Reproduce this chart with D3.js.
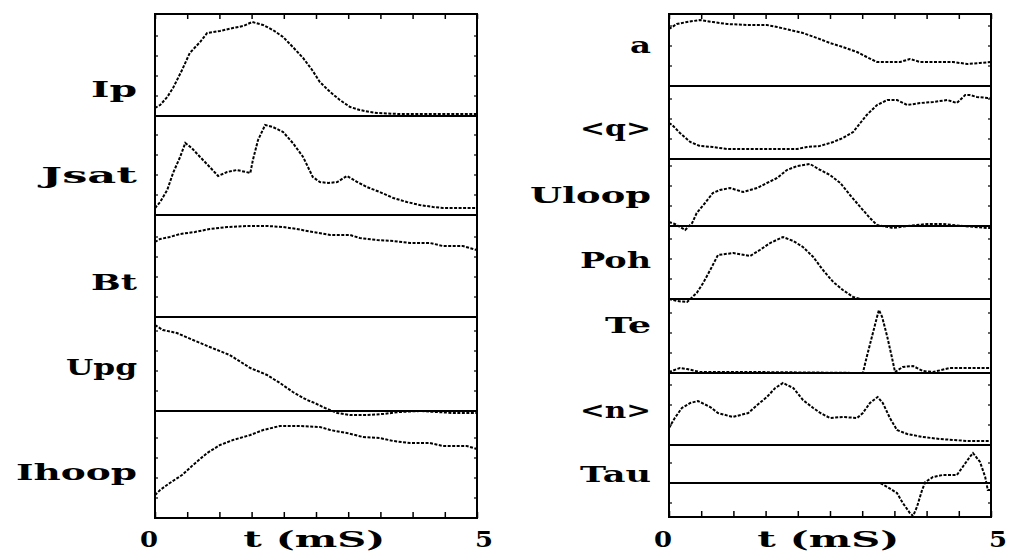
<!DOCTYPE html>
<html>
<head>
<meta charset="utf-8">
<script src="https://cdn.jsdelivr.net/npm/d3@7/dist/d3.min.js"></script>
<style>
  html, body { margin: 0; padding: 0; background: #fff; }
  svg { display: block; }
</style>
</head>
<body>
<svg id="chart" width="1009" height="551"></svg>
<script>
// ---- time axis (mS) ----
const timeDomain = [0, 5];
const timeTicks = [0, 0.5, 1, 1.5, 2, 2.5, 3, 3.5, 4, 4.5, 5];
const axisLabels = ["0", "t (mS)", "5"];

// ---- left column signals (arbitrary units) ----
const ipT = [0, .08, .19, .28, .42, .54, .70, .81, 1.01, 1.21, 1.37, 1.51, 1.68, 1.83, 1.99, 2.14, 2.30, 2.44, 2.56, 2.72, 2.87, 3.03, 3.18, 3.34, 3.45, 3.80, 4.43, 5.0];
const ipV = [0.8, 1.1, 1.9, 2.8, 4.6, 6.3, 7.4, 8.3, 8.5, 8.8, 9.0, 9.4, 9.1, 8.6, 7.9, 6.9, 5.8, 4.6, 3.4, 2.4, 1.6, 0.9, 0.6, 0.4, 0.3, 0.2, 0.2, 0.2];

const jsatT = [0, .08, .19, .28, .39, .47, .57, .70, .85, .98, 1.12, 1.27, 1.48, 1.52, 1.60, 1.71, 1.83, 1.99, 2.14, 2.30, 2.45, 2.56, 2.69, 2.83, 2.98, 3.14, 3.29, 3.49, 3.70, 3.91, 4.11, 4.32, 4.47, 5.0];
const jsatV = [0.7, 1.3, 2.5, 4.2, 5.8, 7.2, 6.7, 5.8, 4.8, 3.9, 4.3, 4.5, 4.2, 5.5, 7.5, 9.0, 8.8, 8.3, 7.2, 5.8, 3.8, 3.3, 3.2, 3.3, 3.9, 3.3, 2.8, 2.3, 1.7, 1.3, 1.0, 0.8, 0.7, 0.7];

const btT = [0, .08, .23, .39, .62, .85, 1.12, 1.43, 1.74, 1.99, 2.20, 2.45, 2.72, 3.03, 3.18, 3.45, 3.70, 3.96, 4.27, 4.47, 4.78, 4.94, 5.0];
const btV = [7.5, 7.8, 8.0, 8.3, 8.5, 8.8, 9.0, 9.1, 9.1, 9.0, 8.8, 8.5, 8.2, 8.2, 7.9, 7.7, 7.6, 7.4, 7.4, 7.1, 7.1, 6.8, 6.7];

const upgT = [0, .12, .34, .59, .85, 1.16, 1.48, 1.74, 1.94, 2.14, 2.36, 2.48, 2.64, 2.83, 3.03, 3.29, 3.54, 3.80, 4.11, 4.63, 5.0];
const upgV = [8.6, 8.1, 7.8, 7.1, 6.4, 5.6, 4.3, 3.6, 2.8, 1.9, 1.1, 0.8, 0.3, -0.2, -0.4, -0.4, -0.3, -0.1, 0, -0.2, -0.2];

const ihoopT = [0, .08, .23, .42, .59, .81, 1.01, 1.21, 1.48, 1.68, 1.94, 2.25, 2.56, 2.72, 2.98, 3.23, 3.49, 3.70, 3.96, 4.27, 4.47, 4.84, 5.0];
const ihoopV = [2.3, 2.8, 3.5, 4.3, 5.3, 6.5, 7.3, 7.8, 8.3, 8.8, 9.2, 9.2, 9.1, 8.8, 8.5, 8.1, 8.0, 7.7, 7.5, 7.5, 7.2, 7.2, 6.9];

// ---- right column signals (arbitrary units) ----
const aT = [0, .05, .12, .28, .48, .68, .90, 1.21, 1.52, 1.68, 1.88, 2.08, 2.30, 2.50, 2.70, 2.92, 3.07, 3.23, 3.59, 3.74, 3.90, 4.10, 4.41, 4.63, 4.83, 5.0];
const aV = [5.7, 5.9, 6.2, 6.4, 6.6, 6.4, 6.2, 6.1, 6.1, 5.9, 5.6, 5.3, 4.8, 4.3, 3.9, 3.4, 2.9, 2.4, 2.4, 2.7, 2.4, 2.4, 2.4, 2.2, 2.3, 2.4];

const qT = [0, .05, .17, .33, .48, .68, .90, 1.10, 1.41, 1.72, 1.99, 2.14, 2.34, 2.55, 2.70, 2.86, 2.97, 3.07, 3.23, 3.39, 3.54, 3.70, 3.90, 4.10, 4.32, 4.47, 4.60, 4.67, 4.78, 4.95, 5.0];
const qV = [3.6, 3.4, 2.6, 1.7, 1.3, 1.2, 1.0, 1.0, 1.0, 1.0, 1.0, 1.2, 1.3, 1.7, 2.1, 2.7, 3.6, 4.4, 5.4, 5.9, 5.9, 5.4, 5.6, 5.7, 5.9, 5.6, 6.4, 6.4, 6.2, 6.1, 6.1];

const uloopT = [0, .09, .25, .36, .43, .56, .68, .79, .95, 1.15, 1.37, 1.52, 1.68, 1.83, 1.99, 2.19, 2.35, 2.50, 2.66, 2.81, 2.97, 3.12, 3.23, 3.48, 3.70, 4.01, 4.25, 4.56, 4.94, 5.0];
const uloopV = [0.4, 0.2, -0.4, 0.3, 1.3, 2.3, 3.3, 3.6, 3.8, 3.4, 3.8, 4.3, 4.8, 5.6, 6.0, 6.2, 5.6, 5.1, 4.3, 3.1, 1.9, 0.8, 0.1, -0.2, 0, 0.2, 0.2, 0, -0.2, -0.2];

const pohT = [0, .12, .28, .43, .53, .64, .76, 1.0, 1.26, 1.41, 1.57, 1.77, 1.93, 2.08, 2.24, 2.39, 2.55, 2.70, 2.86, 2.97, 3.59, 5.0];
const pohV = [0, -0.2, -0.3, 0.6, 1.6, 2.9, 4.4, 4.6, 4.3, 4.9, 5.6, 6.2, 5.8, 5.2, 4.2, 2.9, 1.7, 0.9, 0.2, 0, 0, 0];

const teT = [0, .17, .28, .48, 1.30, 3.01, 3.07, 3.15, 3.23, 3.26, 3.31, 3.39, 3.46, 3.51, 3.63, 3.79, 3.94, 4.10, 4.36, 4.95, 5.0];
const teV = [0.1, 0.5, 0.4, 0.1, 0.1, 0, 1.6, 3.6, 5.6, 6.3, 5.6, 3.6, 1.6, 0.1, 0.6, 0.7, 0.2, 0.1, 0.5, 0.5, 0.5];

const nT = [0, .09, .20, .33, .45, .64, .76, .99, 1.23, 1.37, 1.52, 1.65, 1.77, 1.93, 2.08, 2.24, 2.35, 2.50, 2.70, 2.92, 3.01, 3.12, 3.24, 3.32, 3.43, 3.54, 3.70, 3.94, 4.21, 4.63, 5.0];
const nV = [1.7, 2.7, 3.7, 4.2, 4.4, 3.8, 3.2, 2.8, 3.2, 4.0, 4.8, 5.7, 6.2, 5.7, 4.5, 3.7, 3.2, 2.7, 2.8, 2.7, 3.2, 4.2, 4.8, 4.2, 2.7, 1.5, 1.1, 0.8, 0.6, 0.4, 0.4];

const tauT = [0, 3.28, 3.39, 3.54, 3.63, 3.74, 3.79, 3.85, 3.93, 3.98, 4.10, 4.25, 4.47, 4.56, 4.67, 4.72, 4.83, 4.91, 4.95, 5.0];
const tauV = [0, 0, -0.4, -1.0, -2.0, -3.0, -3.3, -2.4, -0.7, 0.1, 0.6, 0.8, 0.8, 1.6, 2.6, 3.0, 2.1, 0.6, -0.7, -0.7];

// ---- strip definitions: label, samples, value limits ----
const leftStrips = [
  { label: "Ip",    t: ipT,    v: ipV,    domain: [0, 10.2] },
  { label: "Jsat",  t: jsatT,  v: jsatV,  domain: [0, 9.9] },
  { label: "Bt",    t: btT,    v: btV,    domain: [0, 10.2] },
  { label: "Upg",   t: upgT,   v: upgV,   domain: [-0.7, 9.4] },
  { label: "Ihoop", t: ihoopT, v: ihoopV, domain: [0, 10] }
];
const rightStrips = [
  { label: "a",     t: aT,     v: aV,     domain: [0, 7.2] },
  { label: "<q>",   t: qT,     v: qV,     domain: [0, 7.3] },
  { label: "Uloop", t: uloopT, v: uloopV, domain: [-0.4, 6.7] },
  { label: "Poh",   t: pohT,   v: pohV,   domain: [-0.3, 6.9] },
  { label: "Te",    t: teT,    v: teV,    domain: [0, 7.1] },
  { label: "<n>",   t: nT,     v: nV,     domain: [0, 7.2] },
  { label: "Tau",   t: tauT,   v: tauV,   domain: [-3.4, 3.8] }
];

// ---- page layout ----
const panels = [
  { strips: leftStrips,  x0: 155, x1: 477, edges: [14, 116, 215, 317, 418, 518],
    labelBase: [97, 183, 290, 375, 480] },
  { strips: rightStrips, x0: 669, x1: 991, edges: [14, 86, 159, 230, 302, 373, 445, 517],
    labelBase: [53, 136, 203, 268, 333, 418, 482] }
];

const FONT = "'DejaVu Serif', 'Liberation Serif', serif";
const svg = d3.select("#chart");

panels.forEach(panel => {
  const g = svg.append("g");
  const x = d3.scaleLinear().domain(timeDomain).range([panel.x0, panel.x1]);
  const top = panel.edges[0];
  const bottom = panel.edges[panel.edges.length - 1];

  panel.strips.forEach((s, i) => {
    const y = d3.scaleLinear().domain(s.domain).range([panel.edges[i + 1], panel.edges[i]]);

    // zero reference line of the strip
    g.append("line")
      .attr("x1", panel.x0).attr("x2", panel.x1)
      .attr("y1", y(0)).attr("y2", y(0))
      .attr("stroke", "#000").attr("stroke-width", 2);

    // small inward ticks on both side edges
    const yt = y.ticks(4).filter(v => y(v) > panel.edges[i] + 3 && y(v) < panel.edges[i + 1] - 3);
    g.selectAll(null).data(yt).join("line")
      .attr("x1", panel.x0).attr("x2", panel.x0 + 3)
      .attr("y1", d => y(d)).attr("y2", d => y(d))
      .attr("stroke", "#000").attr("stroke-width", 1.2);
    g.selectAll(null).data(yt).join("line")
      .attr("x1", panel.x1).attr("x2", panel.x1 - 3)
      .attr("y1", d => y(d)).attr("y2", d => y(d))
      .attr("stroke", "#000").attr("stroke-width", 1.2);

    // signal trace
    const pts = s.t.map((t, k) => [t, s.v[k]]);
    g.append("path")
      .datum(pts)
      .attr("d", d3.line().x(d => x(d[0])).y(d => y(d[1])))
      .attr("fill", "none")
      .attr("stroke", "#000")
      .attr("stroke-width", 2)
      .attr("stroke-dasharray", "3,1.5");

    // strip label
    const w = s.label.length * 25 - 4;
    g.append("text")
      .attr("x", panel.x0 - 18 - w)
      .attr("y", panel.labelBase[i])
      .attr("textLength", w)
      .attr("lengthAdjust", "spacingAndGlyphs")
      .attr("font-family", FONT)
      .attr("font-weight", "bold")
      .attr("font-size", 22)
      .attr("fill", "#000")
      .text(s.label);
  });

  // time ticks along top and bottom edges
  const ticksTop = d3.axisBottom(x).tickValues(timeTicks).tickSize(5).tickFormat("");
  const ticksBottom = d3.axisTop(x).tickValues(timeTicks).tickSize(6).tickFormat("");
  g.append("g").attr("transform", `translate(0,${top})`).call(ticksTop)
    .call(a => a.select(".domain").remove())
    .selectAll("line").attr("stroke-width", 1.5);
  g.append("g").attr("transform", `translate(0,${bottom})`).call(ticksBottom)
    .call(a => a.select(".domain").remove())
    .selectAll("line").attr("stroke-width", 1.5);

  // frame
  g.append("rect")
    .attr("x", panel.x0).attr("y", top)
    .attr("width", panel.x1 - panel.x0).attr("height", bottom - top)
    .attr("fill", "none").attr("stroke", "#000").attr("stroke-width", 2);

  // axis annotation
  const labY = 547;
  g.append("text").attr("x", x(0) - 6).attr("y", labY).attr("text-anchor", "middle")
    .attr("font-family", FONT).attr("font-weight", "bold").attr("font-size", 22)
    .attr("textLength", 18).attr("lengthAdjust", "spacingAndGlyphs")
    .text(axisLabels[0]);
  g.append("text").attr("x", x(1.37)).attr("y", labY)
    .attr("font-family", FONT).attr("font-weight", "bold").attr("font-size", 22)
    .attr("textLength", 142).attr("lengthAdjust", "spacingAndGlyphs")
    .attr("xml:space", "preserve")
    .text(axisLabels[1]);
  g.append("text").attr("x", x(5) + 7).attr("y", labY).attr("text-anchor", "middle")
    .attr("font-family", FONT).attr("font-weight", "bold").attr("font-size", 22)
    .attr("textLength", 18).attr("lengthAdjust", "spacingAndGlyphs")
    .text(axisLabels[2]);
});
</script>
</body>
</html>
